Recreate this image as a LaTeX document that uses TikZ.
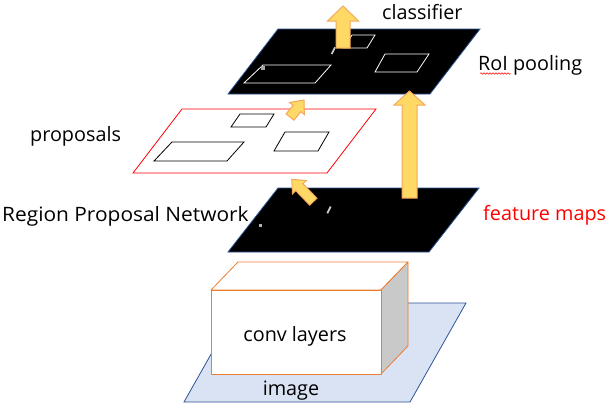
\documentclass[tikz,border=0pt]{standalone}
\usepackage{graphicx}
\usepackage{fontspec}
\setmainfont{Open Sans}
\usetikzlibrary{calc,decorations.pathmorphing}
\definecolor{planeblue}{HTML}{2F5597}
\definecolor{imgfill}{HTML}{DAE3F3}
\definecolor{boxorange}{HTML}{ED7D31}
\definecolor{sidegray}{HTML}{C9C9C9}
\definecolor{arrowfill}{HTML}{FFD966}
\definecolor{arrowline}{HTML}{F4A85A}
\newcommand{\fatarrow}[5]{%
  \coordinate (hb) at ($(#2)!#5!(#1)$);
  \filldraw[yarrow] ($(#1)!#3!90:(#2)$) -- ($(hb)!#3!90:(#2)$) -- ($(hb)!#4!90:(#2)$) -- (#2)
    -- ($(hb)!#4!-90:(#2)$) -- ($(hb)!#3!-90:(#2)$) -- ($(#1)!#3!-90:(#2)$) -- cycle;}
\begin{document}
\begin{tikzpicture}[x=1pt,y=-1pt,
  darkplane/.style={fill=black,draw=planeblue,line width=0.8pt},
  redplane/.style={fill=white,draw=red,line width=0.8pt},
  imgplane/.style={fill=imgfill,draw=planeblue,line width=0.8pt},
  whiterect/.style={draw=white,line width=0.8pt},
  blackrect/.style={draw=black,line width=0.8pt},
  boxface/.style={draw=boxorange,line width=0.8pt,line join=round},
  yarrow/.style={fill=arrowfill,draw=arrowline,line width=1pt,line join=miter},
  lbl/.style={font=\fontsize{19.8}{22}\selectfont,inner sep=0pt},
]
\useasboundingbox (0,0) rectangle (615,407);
\fill[white] (0,0) rectangle (615,407);

% image plane
\draw[imgplane] (240,303) -- (466,303) -- (410,402) -- (184,402) -- cycle;
% conv box
\draw[boxface,fill=white] (211,290) -- (238,262) -- (408,262) -- (381,290) -- cycle;
\draw[boxface,fill=sidegray] (381,290) -- (408,262) -- (408,346) -- (381,374) -- cycle;
\draw[boxface,fill=white] (211,290) rectangle (381,374);
\node[lbl,anchor=base] (conv) at (295,341) {conv layers};
\node[lbl,anchor=base] (image) at (291,395) {image};

% feature maps plane
\draw[darkplane] (278,188) -- (479,188) -- (429,252) -- (228,252) -- cycle;
\fill[gray!60] (258.5,223.5) rectangle (262,227);
\draw[gray!40,line width=1.8pt] (327.3,213.3) -- (330.7,206.5);

% proposals plane
\draw[redplane] (182,109) -- (376,109) -- (327,173) -- (133,173) -- cycle;
\draw[blackrect] (240,114) -- (274,114) -- (266,127) -- (231,127) -- cycle;
\draw[blackrect] (172,142) -- (244,142) -- (227,161) -- (154,161) -- cycle;
\draw[blackrect] (285,132) -- (329,132) -- (318,151) -- (274,151) -- cycle;

% RoI pooling plane
\draw[darkplane] (278,29) -- (480,29) -- (430,94) -- (228,94) -- cycle;
\draw[whiterect] (263,65) -- (331,65) -- (315,83) -- (244,83) -- cycle;
\draw[whiterect] (352,35) -- (375,35) -- (367,48) -- (343,48) -- cycle;
\draw[whiterect] (385,54) -- (429,54) -- (417,72) -- (375,72) -- cycle;
\fill[gray!70] (261,66) rectangle (265,70);
\draw[gray!45,line width=1.8pt] (331.7,54) -- (335,47.3);

% arrows
\coordinate (fmTail) at (409.5,198);
\coordinate (roiTip) at (409.5,91);
\fatarrow{fmTail}{roiTip}{7.5pt}{15.5pt}{14pt}
\coordinate (clsTail) at (343,48);
\coordinate (clsTip) at (343,6);
\fatarrow{clsTail}{clsTip}{7pt}{15.5pt}{15pt}
\coordinate (rpnTail) at (313.3,201.7);
\coordinate (rpnTip) at (291.7,179.3);
\fatarrow{rpnTail}{rpnTip}{5pt}{9.5pt}{11pt}
\coordinate (propTail) at (290,117);
\coordinate (propTip) at (304,100);
\fatarrow{propTail}{propTip}{5pt}{9.5pt}{11pt}

% labels
\node[lbl,anchor=base west] (cls) at (382,19) {classifier};
\node[lbl,anchor=base west] (roi) at (478,70) {RoI pooling};
\draw[red,line width=0.5pt,decorate,decoration={snake,amplitude=0.8pt,segment length=3pt}] (480,73.5) -- (510.5,73.5);
\node[lbl,anchor=base west] (prop) at (30,141) {proposals};
\node[lbl,anchor=base west] (rpn) at (2,221.5) {\scalebox{1.055}[1]{Region Proposal Network}};
\node[lbl,anchor=base west,text=red] (fm) at (483,220.5) {feature maps};
\end{tikzpicture}
\end{document}
